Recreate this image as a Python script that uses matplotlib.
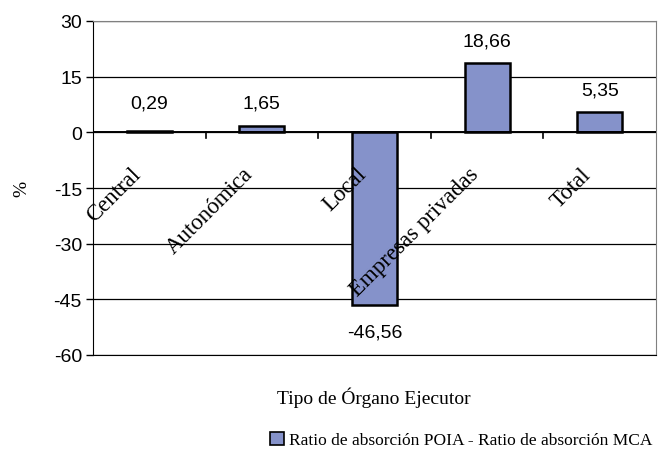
import matplotlib
matplotlib.use("Agg")
import matplotlib.pyplot as plt
from matplotlib.patches import Patch

categories = ["Central", "Autonómica", "Local", "Empresas privadas", "Total"]
values = [0.29, 1.65, -46.56, 18.66, 5.35]
yticks = [-60, -45, -30, -15, 0, 15, 30]
series_name = "Ratio de absorción POIA - Ratio de absorción MCA"

bar_color = "#8592CA"
num_font = ["Liberation Sans", "DejaVu Sans"]
serif_font = ["Liberation Serif", "DejaVu Serif"]

fig = plt.figure(figsize=(6.58, 4.56), dpi=100)
ax = fig.add_axes([93 / 658, 1 - 356 / 456, 563 / 658, 334 / 456])

x = list(range(len(categories)))
ax.bar(x, values, width=0.40, color=bar_color, edgecolor="black", linewidth=1.8, zorder=3)

ax.set_xlim(-0.5, len(categories) - 0.5)
ax.set_ylim(-60, 30)
ax.set_yticks(yticks)
ax.set_yticklabels([str(t) for t in yticks], fontfamily=num_font, fontsize=14)
ax.tick_params(axis="y", direction="out", length=5, width=1, color="black", pad=3)
ax.set_xticks([])

# grid lines
for t in yticks:
    ax.axhline(t, color="black", linewidth=0.9, zorder=1)

# zero axis with category boundary ticks
ax.axhline(0, color="black", linewidth=1.4, zorder=4)
for b in range(1, len(categories)):
    ax.plot([b - 0.5, b - 0.5], [0, -1.4], color="black", linewidth=1.2, zorder=2)

for s in ["top", "right"]:
    ax.spines[s].set_color("#808080")
ax.spines["left"].set_color("black")
ax.spines["bottom"].set_color("black")

# value labels
for i, v in enumerate(values):
    label = ("%.2f" % v).replace(".", ",")
    if v >= 0:
        ax.text(i, max(v, 2) + 6.0, label, ha="center", va="center",
                fontfamily=num_font, fontsize=14)
    else:
        ax.text(i, v - 7.2, label, ha="center", va="center",
                fontfamily=num_font, fontsize=14)

# rotated category labels under the zero line
for i, c in enumerate(categories):
    ax.text(i - 0.17, -8.3, c, rotation=45, rotation_mode="anchor",
            ha="right", va="top", fontfamily=serif_font, fontsize=16.5, zorder=5)

ax.set_ylabel("%", fontfamily=serif_font, fontsize=14, labelpad=17)
fig.text(374 / 658, 1 - 398 / 456, "Tipo de Órgano Ejecutor", ha="center", va="center",
         fontfamily=serif_font, fontsize=14)

ax.legend(handles=[Patch(facecolor=bar_color, edgecolor="black", linewidth=1.2, label=series_name)],
          loc="center", bbox_to_anchor=(461 / 658, 1 - 441 / 456), bbox_transform=fig.transFigure,
          frameon=False, prop={"family": serif_font, "size": 12.5},
          handlelength=0.8, handleheight=0.8, handletextpad=0.3)

fig.savefig("out.png", dpi=100)
